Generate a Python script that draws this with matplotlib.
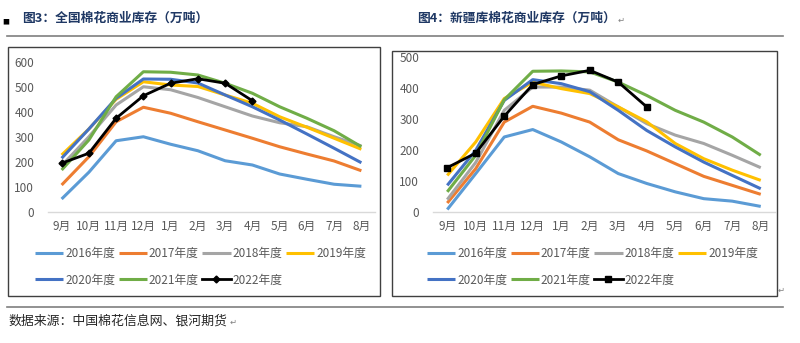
import matplotlib
matplotlib.use("Agg")
import matplotlib.pyplot as plt
from matplotlib.patches import Rectangle
from matplotlib.lines import Line2D
import numpy as np

plt.rcParams['font.family'] = ['Noto Sans CJK SC', 'DejaVu Sans']

months = ["9月", "10月", "11月", "12月", "1月", "2月", "3月", "4月", "5月", "6月", "7月", "8月"]
series_names = ["2016年度", "2017年度", "2018年度", "2019年度", "2020年度", "2021年度", "2022年度"]
colors = ["#5B9BD5", "#ED7D31", "#A5A5A5", "#FFC000", "#4472C4", "#70AD47", "#000000"]

# 全国棉花商业库存
nat_2016 = [52, 159, 285, 301, 271, 245, 205, 188, 152, 131, 111, 103]
nat_2017 = [108, 221, 361, 419, 395, 361, 328, 295, 261, 232, 204, 165]
nat_2018 = [185, 301, 428, 501, 489, 458, 421, 384, 357, 341, 301, 264]
nat_2019 = [228, 332, 451, 521, 508, 502, 468, 435, 381, 339, 295, 251]
nat_2020 = [215, 332, 455, 532, 531, 516, 468, 421, 368, 312, 255, 197]
nat_2021 = [168, 288, 461, 561, 559, 548, 515, 475, 421, 375, 325, 261]
nat_2022 = [195, 235, 375, 465, 515, 533, 515, 445]

# 新疆库棉花商业库存
xj_2016 = [8, 124, 242, 266, 226, 178, 124, 92, 65, 43, 35, 18]
xj_2017 = [29, 140, 290, 341, 319, 290, 233, 197, 156, 115, 86, 57]
xj_2018 = [40, 160, 328, 403, 403, 393, 339, 285, 248, 221, 183, 143]
xj_2019 = [118, 226, 366, 419, 398, 382, 339, 291, 221, 172, 135, 102]
xj_2020 = [86, 199, 360, 427, 414, 388, 328, 263, 210, 161, 118, 75]
xj_2021 = [65, 183, 362, 454, 455, 452, 419, 376, 328, 290, 242, 183]
xj_2022 = [143, 190, 309, 411, 439, 457, 419, 339]

nat = [nat_2016, nat_2017, nat_2018, nat_2019, nat_2020, nat_2021, nat_2022]
xj = [xj_2016, xj_2017, xj_2018, xj_2019, xj_2020, xj_2021, xj_2022]

W, H = 800, 343
fig = plt.figure(figsize=(W / 100, H / 100), dpi=100)


def px_axes(x0, y_top, x1, y_bot):
    return fig.add_axes([x0 / W, 1 - y_bot / H, (x1 - x0) / W, (y_bot - y_top) / H])


def fx(x):
    return x / W


def fy(y):
    return 1 - y / H


# frames and rules
fig.add_artist(Rectangle((fx(8), fy(296)), (380 - 8) / W, (296 - 47) / H, fill=False,
                         edgecolor="#404040", lw=1.0, transform=fig.transFigure))
fig.add_artist(Rectangle((fx(392), fy(296)), (777 - 392) / W, (296 - 51) / H, fill=False,
                         edgecolor="#404040", lw=1.0, transform=fig.transFigure))
fig.add_artist(Line2D([fx(7), fx(783)], [fy(36), fy(36)], color="#7F7F7F", lw=1.2,
                      transform=fig.transFigure))
fig.add_artist(Line2D([fx(7), fx(783)], [fy(307), fy(307)], color="#7F7F7F", lw=1.2,
                      transform=fig.transFigure))

title_color = "#1F3864"
fig.text(fx(2), fy(22), "■", fontsize=5, color="#000000", va="center", ha="left")
fig.text(fx(22), fy(18), "图3：全国棉花商业库存（万吨）", fontsize=9.2, fontweight="bold",
         color=title_color, va="center", ha="left")
fig.text(fx(417), fy(18), "图4：新疆库棉花商业库存（万吨）", fontsize=9.2, fontweight="bold",
         color=title_color, va="center", ha="left")
fig.text(fx(618), fy(20), "↵", fontsize=6, color="#808080", va="center", ha="left",
         family=['DejaVu Sans'])
fig.text(fx(8), fy(321), "数据来源：中国棉花信息网、银河期货", fontsize=9.3,
         color="#262626", va="center", ha="left")
fig.text(fx(230), fy(322), "↵", fontsize=6, color="#808080", va="center", ha="left",
         family=['DejaVu Sans'])
fig.text(fx(778), fy(290), "↵", fontsize=6, color="#808080", va="center", ha="left",
         family=['DejaVu Sans'])

legend_order = [0, 4, 1, 5, 2, 6, 3]


def draw(ax, data, ymax, marker, msize, legend_x):
    x = np.arange(len(months))
    handles = []
    for name, vals, c in zip(series_names, data, colors):
        if c == "#000000":
            h, = ax.plot(x[:len(vals)], vals, color=c, lw=2.0, marker=marker, markersize=msize,
                         label=name, zorder=5)
        else:
            h, = ax.plot(x[:len(vals)], vals, color=c, lw=2.2, label=name, solid_capstyle="butt")
        handles.append(h)
    ax.set_xlim(-0.5, len(months) - 0.5)
    ax.set_ylim(0, ymax)
    ax.set_yticks(np.arange(0, ymax + 1, 100))
    ax.set_xticks(x)
    ax.set_xticklabels(months)
    for s in ["top", "right", "left"]:
        ax.spines[s].set_visible(False)
    ax.spines["bottom"].set_color("#D9D9D9")
    ax.spines["bottom"].set_linewidth(1.0)
    ax.tick_params(axis="both", length=0, labelsize=8.5, labelcolor="#595959")
    ax.tick_params(axis="x", pad=6)
    ax.tick_params(axis="y", pad=10)
    ax.set_facecolor("none")
    leg = ax.legend(handles=[handles[i] for i in legend_order], ncol=4, loc="upper left",
                    bbox_to_anchor=(fx(legend_x), fy(247)), bbox_transform=fig.transFigure,
                    frameon=False, fontsize=8.5, handlelength=2.4, handletextpad=0.15,
                    columnspacing=0.3, labelspacing=1.15, borderaxespad=0, borderpad=0)
    for t in leg.get_texts():
        t.set_color("#595959")


ax1 = px_axes(48, 62, 375, 212)
draw(ax1, nat, 600, "D", 3.5, 35)
ax2 = px_axes(433, 57, 775, 212)
draw(ax2, xj, 500, "s", 5, 427)

fig.savefig("out.png", dpi=100)
